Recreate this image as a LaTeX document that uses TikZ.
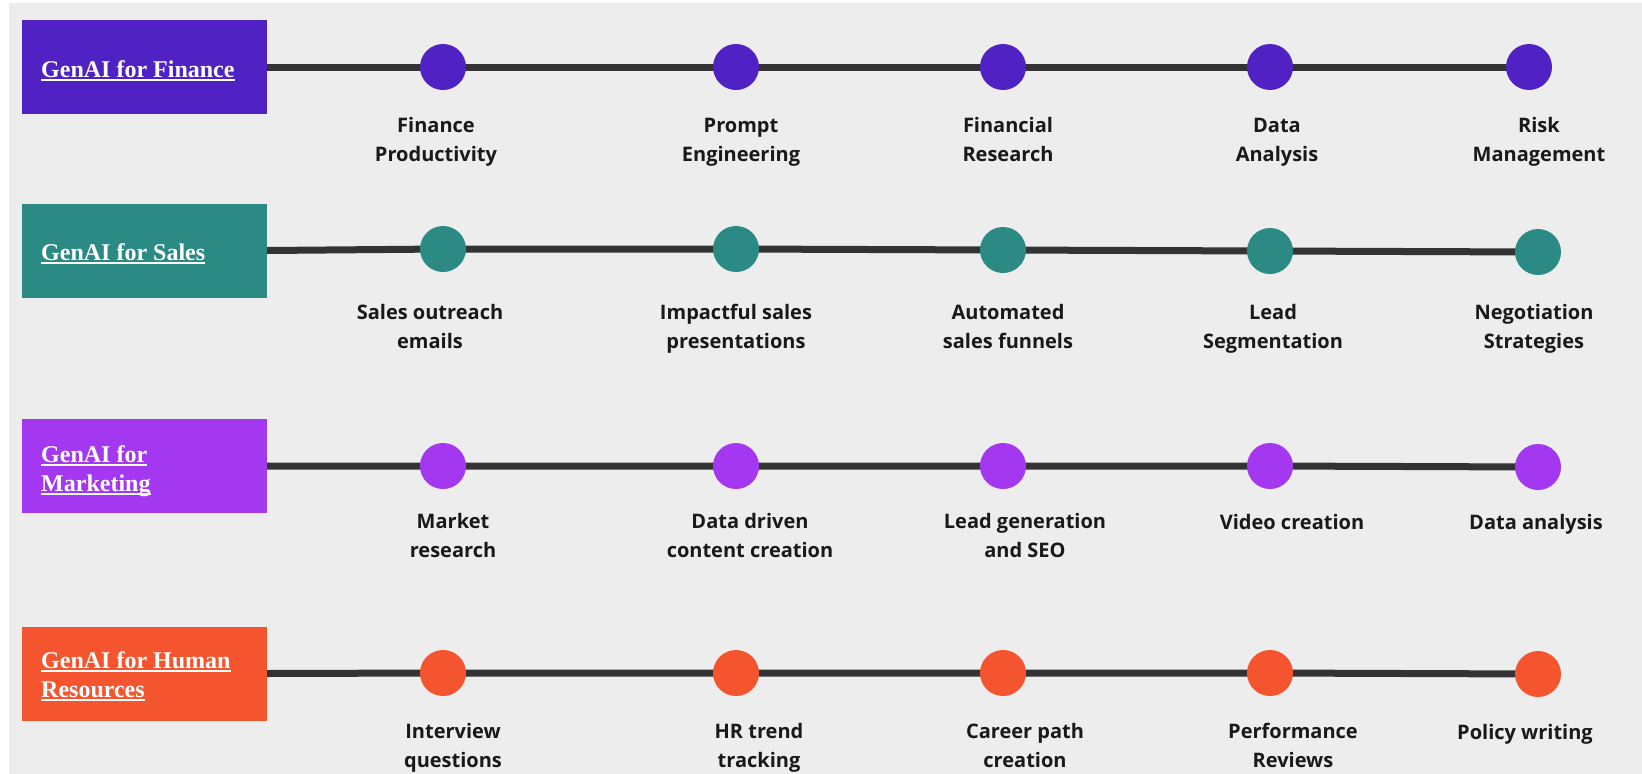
\documentclass[tikz,border=0pt]{standalone}
\usepackage{fontspec}
\setmainfont{Open Sans}
\newfontfamily\lblfont{Open Sans}
\newfontfamily\boxfont{Liberation Serif}
\definecolor{bgc}{HTML}{EDEDED}
\definecolor{linec}{HTML}{333333}
\definecolor{fin}{HTML}{5022C3}
\definecolor{sal}{HTML}{2C8A84}
\definecolor{mkt}{HTML}{A438F0}
\definecolor{hrc}{HTML}{F5552E}
\pgfdeclarelayer{back}
\pgfsetlayers{back,main}
\newsavebox{\myulbox}
\newcommand{\myul}[1]{\sbox{\myulbox}{#1}\rlap{\vrule height -2.3pt depth 3.6pt width \wd\myulbox}\usebox{\myulbox}}
\tikzset{
  catbox/.style={rectangle, minimum width=245, minimum height=94, inner sep=0, draw=none},
  cattext/.style={text=white, align=left, inner sep=0, font={\boxfont\bfseries\fontsize{24}{29}\selectfont}},
  dot/.style={circle, minimum size=46, inner sep=0, draw=none},
  lbl/.style={text=black!90, align=center, inner sep=0, font={\lblfont\bfseries\fontsize{20}{28.5}\selectfont}, anchor=base},
  conn/.style={draw=linec, line width=7}
}
\begin{document}
\begin{tikzpicture}[x=1pt,y=-1pt]
\useasboundingbox (0,0) rectangle (1642,774);
\begin{pgfonlayer}{back}
\fill[white] (0,0) rectangle (1642,774);
\fill[bgc] (9,3) rectangle (1642,774);
\end{pgfonlayer}

% Row 1: Finance
\node[catbox, fill=fin] (b1) at (144.5,67) {};
\node[cattext, anchor=base west] (t1) at (41,77) {\myul{GenAI for Finance}};
\node[dot, fill=fin] (f1) at (443,67) {};
\node[dot, fill=fin] (f2) at (736,67) {};
\node[dot, fill=fin] (f3) at (1003,67) {};
\node[dot, fill=fin] (f4) at (1270,67) {};
\node[dot, fill=fin] (f5) at (1529,67) {};
\node[lbl] (lf1) at (436,161) {Finance\\Productivity};
\node[lbl] (lf2) at (741,161) {Prompt\\Engineering};
\node[lbl] (lf3) at (1008,161) {Financial\\Research};
\node[lbl] (lf4) at (1277,161) {Data\\Analysis};
\node[lbl] (lf5) at (1539,161) {Risk\\Management};
\begin{pgfonlayer}{back}
\draw[conn] (b1.east) -- (f1.center) -- (f2.center) -- (f3.center) -- (f4.center) -- (f5.center);
\end{pgfonlayer}

% Row 2: Sales
\node[catbox, fill=sal] (b2) at (144.5,250.5) {};
\node[cattext, anchor=base west] (t2) at (41,260) {\myul{GenAI for Sales}};
\node[dot, fill=sal] (s1) at (443,249) {};
\node[dot, fill=sal] (s2) at (736,249) {};
\node[dot, fill=sal] (s3) at (1003,250) {};
\node[dot, fill=sal] (s4) at (1270,251) {};
\node[dot, fill=sal] (s5) at (1538,252) {};
\node[lbl] (ls1) at (430,348) {Sales outreach\\emails};
\node[lbl] (ls2) at (736,348) {Impactful sales\\presentations};
\node[lbl] (ls3) at (1008,348) {Automated\\sales funnels};
\node[lbl] (ls4) at (1273,348) {Lead\\Segmentation};
\node[lbl] (ls5) at (1534,348) {Negotiation\\Strategies};
\begin{pgfonlayer}{back}
\draw[conn] (b2.east) -- (s1.center) -- (s2.center) -- (s3.center) -- (s4.center) -- (s5.center);
\end{pgfonlayer}

% Row 3: Marketing
\node[catbox, fill=mkt] (b3) at (144.5,466) {};
\node[cattext, anchor=base west] (t3) at (41,491) {\myul{GenAI for}\\\myul{Marketing}};
\node[dot, fill=mkt] (m1) at (443,466) {};
\node[dot, fill=mkt] (m2) at (736,466) {};
\node[dot, fill=mkt] (m3) at (1003,466) {};
\node[dot, fill=mkt] (m4) at (1270,466) {};
\node[dot, fill=mkt] (m5) at (1538,467) {};
\node[lbl] (lm1) at (453,557) {Market\\research};
\node[lbl] (lm2) at (750,557) {Data driven\\content creation};
\node[lbl] (lm3) at (1025,557) {Lead generation\\and SEO};
\node[lbl] (lm4) at (1292,529) {Video creation};
\node[lbl] (lm5) at (1536,529) {Data analysis};
\begin{pgfonlayer}{back}
\draw[conn] (b3.east) -- (m1.center) -- (m2.center) -- (m3.center) -- (m4.center) -- (m5.center);
\end{pgfonlayer}

% Row 4: Human Resources
\node[catbox, fill=hrc] (b4) at (144.5,673.5) {};
\node[cattext, anchor=base west] (t4) at (41,697) {\myul{GenAI for Human}\\\myul{Resources}};
\node[dot, fill=hrc] (h1) at (443,673) {};
\node[dot, fill=hrc] (h2) at (736,673) {};
\node[dot, fill=hrc] (h3) at (1003,673) {};
\node[dot, fill=hrc] (h4) at (1270,673) {};
\node[dot, fill=hrc] (h5) at (1538,674) {};
\node[lbl] (lh1) at (453,767) {Interview\\questions};
\node[lbl] (lh2) at (759,767) {HR trend\\tracking};
\node[lbl] (lh3) at (1025,767) {Career path\\creation};
\node[lbl] (lh4) at (1293,767) {Performance\\Reviews};
\node[lbl] (lh5) at (1525,739) {Policy writing};
\begin{pgfonlayer}{back}
\draw[conn] (b4.east) -- (h1.center) -- (h2.center) -- (h3.center) -- (h4.center) -- (h5.center);
\end{pgfonlayer}
\end{tikzpicture}
\end{document}
